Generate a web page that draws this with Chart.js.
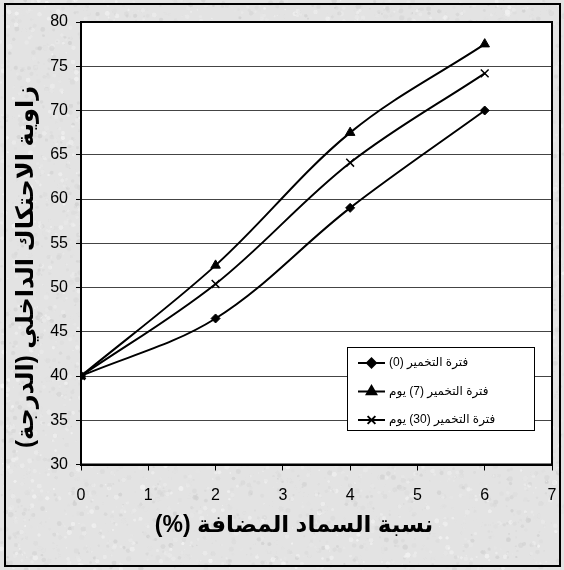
<!DOCTYPE html>
<html>
<head>
<meta charset="utf-8">
<script src="https://cdn.jsdelivr.net/npm/chart.js@4.4.1/dist/chart.umd.min.js"></script>
<style>
  html, body { margin: 0; padding: 0; background: #fff; }
  #wrap { width: 564px; height: 570px; }
</style>
</head>
<body>
<div id="wrap"><canvas id="frictionChart" width="564" height="570"></canvas></div>
<script>
// fertilizer added (%) and internal friction angle (degrees)
const fertilizerPct = [0, 2, 4, 6];
const angleDay0 = [40, 46.5, 59, 70];
const angleDay7 = [40, 52.5, 67.5, 77.5];
const angleDay30 = [40, 50.4, 64.1, 74.2];
const seriesNames = ['فترة التخمير (0)', 'فترة التخمير (7) يوم', 'فترة التخمير (30) يوم'];
const xTitle = 'نسبة السماد المضافة (%)';
const yTitle = 'زاوية الاحتكاك الداخلي (الدرجة)';

const FONT = '"Liberation Sans", Arial, "DejaVu Sans", sans-serif';

function toPoints(ys) {
    return fertilizerPct.map((x, i) => ({ x: x, y: ys[i] }));
}

// light grey mottled backdrop, built once with a small seeded generator
function makeTexture(w, h) {
    let c = document.createElement('canvas');
    c.width = w; c.height = h;
    let g = c.getContext('2d');
    let seed = 12345;
    let rnd = () => { seed = (seed * 1103515245 + 12345) & 0x7fffffff; return seed / 0x7fffffff; };
    g.fillStyle = '#e3e3e3';
    g.fillRect(0, 0, w, h);
    for (let i = 0; i < 14000; i++) {
        let v = 205 + Math.floor(rnd() * 45);
        g.fillStyle = `rgba(${v},${v},${v},0.3)`;
        g.beginPath();
        g.arc(rnd() * w, rnd() * h, 0.6 + rnd() * 2, 0, Math.PI * 2);
        g.fill();
    }
    return c;
}

const texture = makeTexture(564, 570);

const backdrop = {
    id: 'backdrop',
    beforeDraw(chart) {
        let ctx = chart.ctx, a = chart.chartArea;
        ctx.save();
        ctx.drawImage(texture, 0, 0);
        ctx.fillStyle = '#fff';
        ctx.fillRect(a.left, a.top, a.right - a.left, a.bottom - a.top);
        ctx.restore();
    },
    afterDraw(chart) {
        let ctx = chart.ctx, a = chart.chartArea;
        ctx.save();
        // plot frame
        ctx.strokeStyle = '#000';
        ctx.lineWidth = 2;
        ctx.strokeRect(a.left, a.top, a.right - a.left, a.bottom - a.top);
        // outer frame
        ctx.strokeRect(5, 4, 555, 562);

        // axis titles
        ctx.fillStyle = '#000';
        ctx.direction = 'rtl';
        ctx.textAlign = 'center';
        ctx.textBaseline = 'middle';
        ctx.font = 'bold 23px ' + FONT;
        ctx.fillText(xTitle, 294, 526);
        ctx.font = 'bold 24px ' + FONT;
        ctx.translate(26, 267);
        ctx.rotate(-Math.PI / 2);
        ctx.fillText(yTitle, 0, 0);
        ctx.restore();

        // legend box
        let lx = 347, ly = 347, lw = 187, lh = 83;
        ctx.save();
        ctx.fillStyle = '#fff';
        ctx.fillRect(lx, ly, lw, lh);
        ctx.strokeStyle = '#000';
        ctx.lineWidth = 1;
        ctx.strokeRect(lx + 0.5, ly + 0.5, lw, lh);
        chart.data.datasets.forEach((ds, i) => {
            let y = 363 + i * 28.5;
            ctx.strokeStyle = '#000';
            ctx.fillStyle = '#000';
            ctx.lineWidth = 2;
            ctx.beginPath();
            ctx.moveTo(358, y);
            ctx.lineTo(385, y);
            ctx.stroke();
            Chart.helpers.drawPoint(ctx, {
                pointStyle: ds.pointStyle,
                radius: ds.pointRadius,
                borderWidth: ds.pointBorderWidth
            }, 371.5, y);
            ctx.fillStyle = '#000';
            ctx.direction = 'rtl';
            ctx.textAlign = 'left';
            ctx.textBaseline = 'middle';
            ctx.font = '12px ' + FONT;
            ctx.fillText(ds.label, 389, y);
        });
        ctx.restore();
    }
};

function series(i, ys, style, radius) {
    return {
        label: seriesNames[i],
        data: toPoints(ys),
        borderColor: '#000',
        backgroundColor: '#000',
        borderWidth: 2,
        tension: 0.35,
        pointStyle: style,
        pointRadius: radius,
        pointHoverRadius: radius,
        pointBorderWidth: style === 'crossRot' ? 1.5 : 1,
        pointBackgroundColor: '#000',
        pointBorderColor: '#000'
    };
}

new Chart(document.getElementById('frictionChart'), {
    type: 'line',
    data: {
        datasets: [
            series(0, angleDay0, 'rectRot', 4.5),
            series(1, angleDay7, 'triangle', 5.5),
            series(2, angleDay30, 'crossRot', 5.5)
        ]
    },
    options: {
        responsive: false,
        devicePixelRatio: 1,
        animation: false,
        layout: { padding: { top: 22, right: 12, left: 0, bottom: 0 } },
        plugins: { legend: { display: false }, tooltip: { enabled: false } },
        scales: {
            x: {
                type: 'linear',
                min: 0, max: 7,
                afterFit(scale) {
                    scale.height = 105.5;
                    scale.paddingLeft = 0;
                    scale.paddingRight = 0;
                },
                ticks: { stepSize: 1, color: '#000', padding: 15, font: { family: FONT, size: 16 } },
                grid: { drawOnChartArea: false, drawTicks: true, tickLength: 6, color: '#000', lineWidth: 1 },
                border: { display: true, color: '#000', width: 2 }
            },
            y: {
                type: 'linear',
                min: 30, max: 80,
                afterFit(scale) {
                    scale.width = 81;
                    scale.paddingTop = 0;
                    scale.paddingBottom = 0;
                },
                ticks: { stepSize: 5, color: '#000', padding: 8, font: { family: FONT, size: 16 } },
                grid: { color: '#444', lineWidth: 1, tickLength: 5, tickColor: '#000' },
                border: { display: true, color: '#000', width: 2 }
            }
        }
    },
    plugins: [backdrop]
});
</script>
</body>
</html>
